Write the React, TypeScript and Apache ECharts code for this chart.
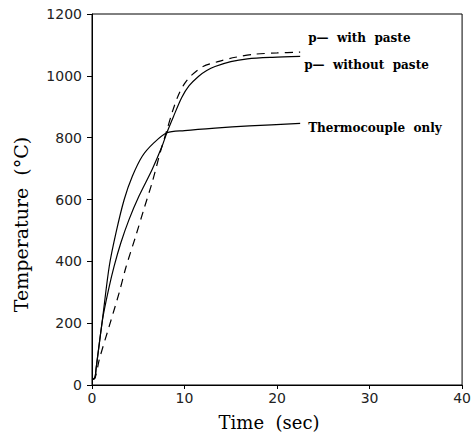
import React, { useEffect, useRef } from "react";
import * as echarts from "echarts";

const xTicks = { min: 0, max: 40, interval: 10 };
const yTicks = { min: 0, max: 1200, interval: 200 };

const withPaste: [number, number][] = [
  [0, 18], [0.35, 25], [0.8, 84], [1.87, 191], [2.94, 299], [3.66, 380], [4.73, 482],
  [5.6, 568], [6.5, 655], [7.4, 755], [8.1, 825], [8.7, 885], [9.3, 935], [10.0, 975],
  [10.8, 1003], [12.0, 1030], [13.5, 1045], [15.5, 1060], [17.6, 1070], [20, 1074], [22.5, 1077],
];

const withoutPaste: [number, number][] = [
  [0, 18], [0.3, 22], [0.45, 55], [1.16, 215], [1.8, 310], [2.4, 385], [3.12, 460],
  [4.0, 535], [5.08, 611], [6.5, 697], [7.57, 772], [8.1, 817], [8.8, 868], [9.7, 930],
  [10.5, 968], [11.5, 998], [12.4, 1017], [13.3, 1030], [15, 1046], [16.8, 1055],
  [19.5, 1060], [22.5, 1063],
];

const thermocoupleOnly: [number, number][] = [
  [0, 18], [0.3, 22], [0.45, 55], [1.16, 220], [1.87, 385], [2.59, 492], [3.48, 600],
  [4.36, 675], [5.43, 740], [6.68, 783], [8.1, 816], [10, 823], [13.3, 831], [17, 838],
  [22.5, 846],
];

const seriesNames = ["p—  with  paste", "p—  without  paste", "Thermocouple  only"];

export default function App() {
  const ref = useRef<HTMLDivElement>(null);
  useEffect(() => {
    if (!ref.current) return;
    const chart = echarts.init(ref.current, undefined, { renderer: "svg" });
    const labelStyle = {
      show: true,
      color: "#000",
      fontFamily: "DejaVu Serif",
      fontWeight: "bold" as const,
      fontSize: 12,
    };
    const lineBase = {
      type: "line" as const,
      showSymbol: false,
      smooth: 0.3,
      silent: true,
    };
    chart.setOption({
      animation: false,
      backgroundColor: "#fff",
      grid: {
        left: 92,
        right: 7,
        top: 14,
        bottom: 50,
        show: true,
        borderColor: "#000",
        borderWidth: 1,
      },
      xAxis: {
        type: "value",
        min: xTicks.min,
        max: xTicks.max,
        interval: xTicks.interval,
        name: "Time  (sec)",
        nameLocation: "middle",
        nameGap: 28,
        nameTextStyle: {
          fontFamily: "DejaVu Serif",
          fontSize: 18,
          color: "#000",
          padding: [0, 16, 0, 0],
        },
        axisLine: { lineStyle: { color: "#000", width: 1 } },
        axisTick: { show: true, length: 4, lineStyle: { color: "#000" } },
        axisLabel: {
          color: "#222",
          fontFamily: "DejaVu Sans",
          fontSize: 14,
          margin: 6,
          formatter: (v: number) => String(v),
        },
        splitLine: { show: false },
      },
      yAxis: {
        type: "value",
        min: yTicks.min,
        max: yTicks.max,
        interval: yTicks.interval,
        name: "Temperature  (°C)",
        nameLocation: "middle",
        nameRotate: 90,
        nameGap: 62,
        nameTextStyle: {
          fontFamily: "DejaVu Serif",
          fontSize: 19,
          color: "#000",
          padding: [0, 50, 0, 0],
        },
        axisLine: { lineStyle: { color: "#000", width: 1 } },
        axisTick: { show: true, length: 5, lineStyle: { color: "#000" } },
        axisLabel: {
          color: "#222",
          fontFamily: "DejaVu Sans",
          fontSize: 14,
          margin: 10,
          formatter: (v: number) => String(v),
        },
        splitLine: { show: false },
      },
      series: [
        {
          ...lineBase,
          name: seriesNames[0],
          data: withPaste,
          lineStyle: { color: "#000", width: 1.2, type: [8, 6] },
          endLabel: { ...labelStyle, formatter: seriesNames[0], offset: [0, -14] },
        },
        {
          ...lineBase,
          name: seriesNames[1],
          data: withoutPaste,
          lineStyle: { color: "#000", width: 1.2 },
          endLabel: { ...labelStyle, formatter: seriesNames[1], offset: [-4, 9] },
        },
        {
          ...lineBase,
          name: seriesNames[2],
          data: thermocoupleOnly,
          lineStyle: { color: "#000", width: 1.2 },
          endLabel: { ...labelStyle, formatter: seriesNames[2], offset: [0, 5] },
        },
      ],
    });
    return () => chart.dispose();
  }, []);
  return (
    <div
      ref={ref}
      style={{ position: "absolute", left: 0, top: 0, width: 474, height: 436 }}
    />
  );
}
